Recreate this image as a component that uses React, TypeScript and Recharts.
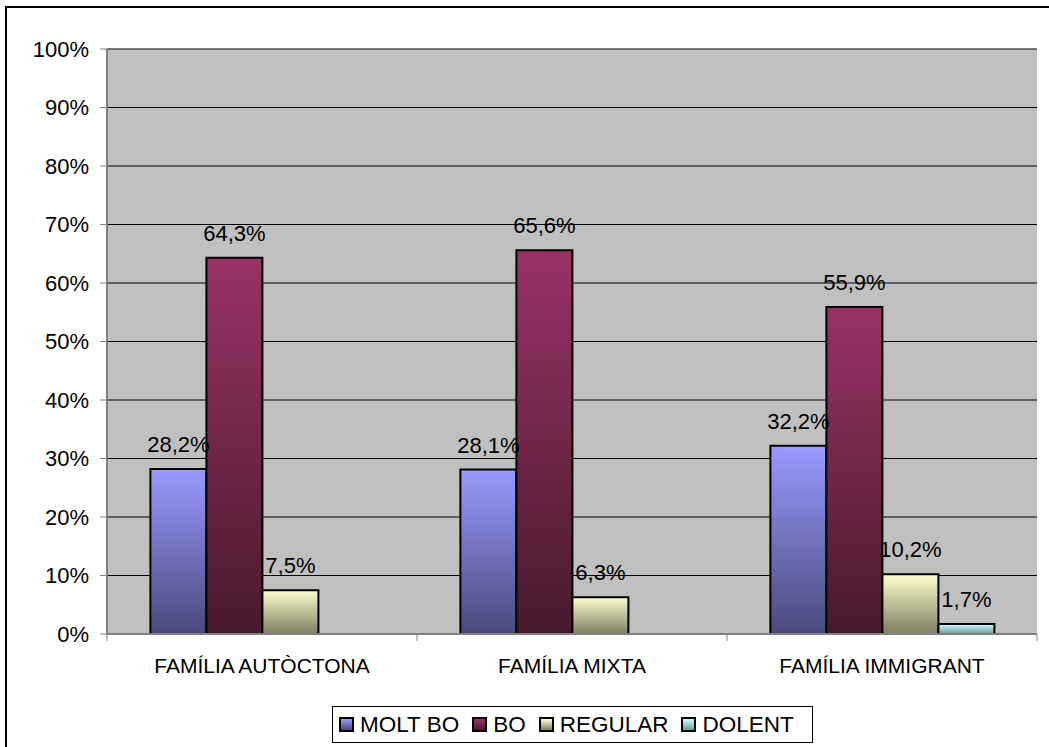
import { BarChart, Bar, XAxis, YAxis, CartesianGrid, Legend, LabelList } from 'recharts';

const FONT = "'Liberation Sans', Arial, sans-serif";

const categories = ['FAMÍLIA AUTÒCTONA', 'FAMÍLIA MIXTA', 'FAMÍLIA IMMIGRANT'];
const moltBo = [28.2, 28.1, 32.2];
const bo = [64.3, 65.6, 55.9];
const regular = [7.5, 6.3, 10.2];
const dolent = [null, null, 1.7];
const yTicks = [0, 10, 20, 30, 40, 50, 60, 70, 80, 90, 100];

const series = [
  { key: 'moltBo', name: 'MOLT BO', top: '#9999FF', bottom: '#4A4A7C' },
  { key: 'bo', name: 'BO', top: '#993366', bottom: '#48192C' },
  { key: 'regular', name: 'REGULAR', top: '#FFFFCC', bottom: '#7E7E62' },
  { key: 'dolent', name: 'DOLENT', top: '#CCFFFF', bottom: '#6A9A9A' },
];

const data = categories.map((category, i) => ({
  category,
  moltBo: moltBo[i],
  bo: bo[i],
  regular: regular[i],
  dolent: dolent[i],
}));

const fmtLabel = (v: any) => (v == null ? '' : `${Number(v).toFixed(1).replace('.', ',')}%`);

function CategoryTick(props: any) {
  const { x, y, payload, index, visibleTicksCount } = props;
  const half = payload?.offset ?? 0;
  return (
    <g>
      <line x1={x - half} x2={x - half} y1={y - 7} y2={y} stroke="#808080" strokeWidth={1} />
      {index === visibleTicksCount - 1 && (
        <line x1={x + half} x2={x + half} y1={y - 7} y2={y} stroke="#808080" strokeWidth={1} />
      )}
      <text x={x} y={y} dy={32} textAnchor="middle" fontSize={21} fill="#000" fontFamily={FONT}>
        {payload.value}
      </text>
    </g>
  );
}

function LegendBox() {
  return (
    <div
      style={{
        display: 'flex',
        alignItems: 'center',
        height: 37,
        boxSizing: 'border-box',
        border: '1px solid #000',
        background: '#fff',
        paddingLeft: 6,
        fontFamily: FONT,
        fontSize: 22.5,
        color: '#000',
        whiteSpace: 'nowrap',
        overflow: 'visible',
      }}
    >
      {series.map((s) => (
        <div key={s.key} style={{ display: 'flex', alignItems: 'center', marginRight: 13, flexShrink: 0 }}>
          <span
            style={{
              display: 'inline-block',
              width: 11,
              height: 11,
              border: '2px solid #000',
              background: `linear-gradient(${s.top}, ${s.bottom})`,
              marginRight: 6,
              flexShrink: 0,
            }}
          />
          <span>{s.name}</span>
        </div>
      ))}
    </div>
  );
}

export default function App() {
  return (
    <div style={{ position: 'absolute', left: 0, top: 0, width: 1049, height: 747, overflow: 'hidden', background: '#fff' }}>
      <div
        style={{
          position: 'absolute',
          left: 5,
          top: 6,
          width: 1060,
          height: 760,
          borderLeft: '2px solid #000',
          borderTop: '2px solid #000',
        }}
      />
      <div style={{ position: 'absolute', left: 0, top: 0 }}>
        <BarChart
          width={1049}
          height={747}
          data={data}
          margin={{ top: 49, right: 12, bottom: 53, left: 0 }}
          barCategoryGap="14%"
          barGap={0}
        >
          <defs>
            {series.map((s) => (
              <linearGradient key={s.key} id={`grad-${s.key}`} x1="0" y1="0" x2="0" y2="1">
                <stop offset="0%" stopColor={s.top} />
                <stop offset="100%" stopColor={s.bottom} />
              </linearGradient>
            ))}
          </defs>
          <CartesianGrid vertical={false} fill="#C0C0C0" stroke="#000" strokeWidth={1} />
          <XAxis
            dataKey="category"
            height={60}
            tickSize={7}
            tickMargin={0}
            tickLine={false}
            axisLine={{ stroke: '#808080', strokeWidth: 2 }}
            tick={<CategoryTick />}
            interval={0}
          />
          <XAxis
            xAxisId="top"
            orientation="top"
            dataKey="category"
            height={0}
            tick={false}
            tickLine={false}
            axisLine={{ stroke: '#808080', strokeWidth: 2 }}
          />
          <YAxis
            width={107}
            domain={[0, 100]}
            ticks={yTicks}
            interval={0}
            tickFormatter={(v: number) => `${v}%`}
            tickSize={7}
            tickMargin={11}
            tickLine={{ stroke: '#808080', strokeWidth: 1 }}
            axisLine={{ stroke: '#808080', strokeWidth: 2 }}
            tick={{ fontSize: 22, fill: '#000', fontFamily: FONT }}
          />
          <YAxis
            yAxisId="right"
            orientation="right"
            width={0}
            domain={[0, 100]}
            tick={false}
            tickLine={false}
            axisLine={{ stroke: '#808080', strokeWidth: 2 }}
          />
          <Legend
            layout="horizontal"
            verticalAlign="middle"
            align="center"
            wrapperStyle={{ left: 332, top: 706, width: 481, height: 37 }}
            content={() => <LegendBox />}
          />
          {series.map((s) => (
            <Bar
              key={s.key}
              dataKey={s.key}
              name={s.name}
              fill={`url(#grad-${s.key})`}
              stroke="#000"
              strokeWidth={2}
              isAnimationActive={false}
            >
              <LabelList
                dataKey={s.key}
                position="top"
                offset={17}
                formatter={fmtLabel}
                fill="#000"
                fontSize={22}
                fontFamily={FONT}
              />
            </Bar>
          ))}
        </BarChart>
      </div>
    </div>
  );
}
